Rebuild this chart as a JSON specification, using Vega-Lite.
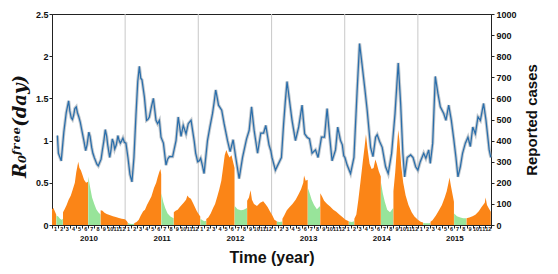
{
  "$schema": "https://vega.github.io/schema/vega-lite/v6.json",
  "width": 439,
  "height": 211,
  "autosize": {"type": "none"},
  "padding": {"left": 52, "top": 14, "right": 67, "bottom": 49},
  "background": "white",
  "config": {
    "view": {"stroke": "#222", "strokeWidth": 1},
    "font": "Liberation Sans",
    "axis": {"labelFont": "Liberation Sans", "titleFont": "Liberation Sans", "labelColor": "#111", "titleColor": "#111", "domainColor": "#222", "tickColor": "#222", "grid": false}
  },
  "datasets": {
    "years": [{"d": "2011-01-01"}, {"d": "2012-01-01"}, {"d": "2013-01-01"}, {"d": "2014-01-01"}, {"d": "2015-01-01"}],
    "r0": [
      {"d":"2010-01-28","r":1.06},{"d":"2010-02-02","r":0.85},{"d":"2010-02-16","r":0.76},{"d":"2010-03-01","r":1.1},{"d":"2010-03-13","r":1.33},{"d":"2010-03-25","r":1.47},{"d":"2010-03-31","r":1.35},{"d":"2010-04-07","r":1.27},{"d":"2010-04-13","r":1.25},{"d":"2010-04-19","r":1.3},{"d":"2010-04-25","r":1.38},{"d":"2010-05-02","r":1.4},{"d":"2010-05-08","r":1.33},{"d":"2010-05-15","r":1.28},{"d":"2010-05-22","r":1.22},{"d":"2010-05-30","r":1.12},{"d":"2010-06-09","r":1.0},{"d":"2010-06-18","r":0.88},{"d":"2010-06-25","r":0.95},{"d":"2010-07-04","r":1.1},{"d":"2010-07-10","r":1.05},{"d":"2010-07-18","r":0.92},{"d":"2010-07-24","r":0.85},{"d":"2010-07-31","r":0.8},{"d":"2010-08-13","r":0.72},{"d":"2010-08-20","r":0.7},{"d":"2010-08-27","r":0.74},{"d":"2010-09-03","r":0.78},{"d":"2010-09-09","r":0.88},{"d":"2010-09-17","r":1.0},{"d":"2010-09-24","r":1.13},{"d":"2010-10-01","r":1.05},{"d":"2010-10-06","r":0.95},{"d":"2010-10-16","r":0.8},{"d":"2010-10-22","r":0.88},{"d":"2010-10-29","r":1.02},{"d":"2010-11-04","r":0.98},{"d":"2010-11-10","r":0.9},{"d":"2010-11-18","r":0.95},{"d":"2010-11-26","r":1.06},{"d":"2010-12-02","r":1.0},{"d":"2010-12-08","r":0.97},{"d":"2010-12-15","r":1.0},{"d":"2010-12-21","r":1.03},{"d":"2010-12-28","r":0.98},
      {"d":"2011-01-05","r":0.97},{"d":"2011-01-15","r":0.8},{"d":"2011-01-25","r":0.6},{"d":"2011-02-04","r":0.51},{"d":"2011-02-14","r":0.8},{"d":"2011-02-24","r":1.3},{"d":"2011-03-05","r":1.7},{"d":"2011-03-13","r":1.88},{"d":"2011-03-20","r":1.74},{"d":"2011-03-26","r":1.72},{"d":"2011-04-07","r":1.52},{"d":"2011-04-18","r":1.24},{"d":"2011-04-24","r":1.25},{"d":"2011-05-02","r":1.28},{"d":"2011-05-12","r":1.4},{"d":"2011-05-22","r":1.5},{"d":"2011-06-04","r":1.24},{"d":"2011-06-12","r":1.2},{"d":"2011-06-21","r":1.24},{"d":"2011-06-29","r":1.04},{"d":"2011-07-11","r":0.97},{"d":"2011-07-24","r":0.71},{"d":"2011-08-01","r":0.78},{"d":"2011-08-10","r":0.81},{"d":"2011-08-26","r":0.81},{"d":"2011-09-12","r":1.0},{"d":"2011-09-23","r":1.28},{"d":"2011-10-07","r":1.05},{"d":"2011-10-18","r":1.18},{"d":"2011-11-01","r":1.08},{"d":"2011-11-12","r":1.2},{"d":"2011-11-26","r":1.24},{"d":"2011-12-12","r":0.99},{"d":"2011-12-19","r":0.85},{"d":"2011-12-29","r":0.75},
      {"d":"2012-01-06","r":0.76},{"d":"2012-01-13","r":0.79},{"d":"2012-01-22","r":0.7},{"d":"2012-01-30","r":0.61},{"d":"2012-02-16","r":1.0},{"d":"2012-02-28","r":1.16},{"d":"2012-03-12","r":1.32},{"d":"2012-03-20","r":1.45},{"d":"2012-03-28","r":1.6},{"d":"2012-04-05","r":1.5},{"d":"2012-04-11","r":1.42},{"d":"2012-04-27","r":1.36},{"d":"2012-05-09","r":1.2},{"d":"2012-05-26","r":1.0},{"d":"2012-06-08","r":0.87},{"d":"2012-06-23","r":1.01},{"d":"2012-07-06","r":0.8},{"d":"2012-07-23","r":0.55},{"d":"2012-08-09","r":0.8},{"d":"2012-08-29","r":1.02},{"d":"2012-09-11","r":1.12},{"d":"2012-09-23","r":1.4},{"d":"2012-10-06","r":1.12},{"d":"2012-10-23","r":0.85},{"d":"2012-11-08","r":1.09},{"d":"2012-11-22","r":1.09},{"d":"2012-12-03","r":1.18},{"d":"2012-12-19","r":0.95},{"d":"2012-12-28","r":0.88},
      {"d":"2013-01-03","r":0.8},{"d":"2013-01-20","r":0.65},{"d":"2013-02-05","r":0.73},{"d":"2013-02-19","r":0.8},{"d":"2013-03-02","r":1.2},{"d":"2013-03-10","r":1.45},{"d":"2013-03-19","r":1.7},{"d":"2013-03-31","r":1.48},{"d":"2013-04-13","r":1.24},{"d":"2013-04-30","r":1.0},{"d":"2013-05-16","r":1.16},{"d":"2013-06-02","r":1.42},{"d":"2013-06-15","r":1.08},{"d":"2013-06-27","r":1.04},{"d":"2013-07-09","r":1.02},{"d":"2013-07-22","r":0.85},{"d":"2013-08-08","r":0.89},{"d":"2013-08-21","r":0.8},{"d":"2013-09-07","r":1.04},{"d":"2013-09-22","r":1.04},{"d":"2013-10-05","r":1.38},{"d":"2013-10-18","r":1.04},{"d":"2013-10-30","r":0.76},{"d":"2013-11-16","r":0.89},{"d":"2013-11-27","r":1.16},{"d":"2013-12-11","r":1.0},{"d":"2013-12-20","r":0.95},{"d":"2013-12-27","r":0.82},
      {"d":"2014-01-02","r":0.8},{"d":"2014-01-13","r":0.71},{"d":"2014-01-30","r":0.61},{"d":"2014-02-16","r":0.8},{"d":"2014-03-04","r":1.6},{"d":"2014-03-16","r":2.15},{"d":"2014-03-26","r":1.95},{"d":"2014-04-12","r":1.6},{"d":"2014-04-23","r":1.36},{"d":"2014-05-10","r":0.92},{"d":"2014-05-22","r":0.81},{"d":"2014-06-04","r":1.04},{"d":"2014-06-12","r":1.07},{"d":"2014-06-24","r":0.99},{"d":"2014-07-07","r":0.92},{"d":"2014-07-24","r":0.69},{"d":"2014-08-06","r":0.61},{"d":"2014-08-23","r":0.85},{"d":"2014-09-09","r":1.32},{"d":"2014-09-25","r":1.92},{"d":"2014-10-07","r":1.44},{"d":"2014-10-18","r":0.85},{"d":"2014-10-27","r":0.57},{"d":"2014-11-09","r":0.8},{"d":"2014-11-26","r":0.83},{"d":"2014-12-08","r":0.8},{"d":"2014-12-21","r":0.69},
      {"d":"2015-01-01","r":0.65},{"d":"2015-01-13","r":0.75},{"d":"2015-01-30","r":0.85},{"d":"2015-02-10","r":0.79},{"d":"2015-02-24","r":0.89},{"d":"2015-03-04","r":0.73},{"d":"2015-03-16","r":0.97},{"d":"2015-03-29","r":1.76},{"d":"2015-04-11","r":1.56},{"d":"2015-04-23","r":1.4},{"d":"2015-05-10","r":1.32},{"d":"2015-05-21","r":1.24},{"d":"2015-06-04","r":1.42},{"d":"2015-06-17","r":1.24},{"d":"2015-06-29","r":1.02},{"d":"2015-07-10","r":0.8},{"d":"2015-07-20","r":0.57},{"d":"2015-08-01","r":0.69},{"d":"2015-08-12","r":0.85},{"d":"2015-08-26","r":0.97},{"d":"2015-09-08","r":1.04},{"d":"2015-09-20","r":0.93},{"d":"2015-10-02","r":1.16},{"d":"2015-10-15","r":1.08},{"d":"2015-10-28","r":1.28},{"d":"2015-11-09","r":1.24},{"d":"2015-11-25","r":1.44},{"d":"2015-12-07","r":1.24},{"d":"2015-12-23","r":0.89},{"d":"2015-12-31","r":0.8}
    ],
    "cases": [
      {"d":"2010-01-01","c":75,"s":"2010-0","h":"term"},{"d":"2010-01-08","c":80,"s":"2010-0","h":"term"},{"d":"2010-01-15","c":65,"s":"2010-0","h":"term"},{"d":"2010-01-22","c":50,"s":"2010-0","h":"term"},
      {"d":"2010-01-23","c":45,"s":"2010-1","h":"holiday"},{"d":"2010-02-01","c":40,"s":"2010-1","h":"holiday"},{"d":"2010-02-10","c":30,"s":"2010-1","h":"holiday"},{"d":"2010-02-18","c":25,"s":"2010-1","h":"holiday"},{"d":"2010-02-24","c":30,"s":"2010-1","h":"holiday"},
      {"d":"2010-02-25","c":60,"s":"2010-2","h":"term"},{"d":"2010-03-05","c":75,"s":"2010-2","h":"term"},{"d":"2010-03-15","c":95,"s":"2010-2","h":"term"},{"d":"2010-03-25","c":120,"s":"2010-2","h":"term"},{"d":"2010-04-05","c":140,"s":"2010-2","h":"term"},{"d":"2010-04-15","c":170,"s":"2010-2","h":"term"},{"d":"2010-04-25","c":200,"s":"2010-2","h":"term"},{"d":"2010-05-02","c":250,"s":"2010-2","h":"term"},{"d":"2010-05-08","c":280,"s":"2010-2","h":"term"},{"d":"2010-05-12","c":300,"s":"2010-2","h":"term"},{"d":"2010-05-18","c":270,"s":"2010-2","h":"term"},{"d":"2010-05-25","c":260,"s":"2010-2","h":"term"},{"d":"2010-06-01","c":240,"s":"2010-2","h":"term"},{"d":"2010-06-10","c":215,"s":"2010-2","h":"term"},{"d":"2010-06-20","c":200,"s":"2010-2","h":"term"},{"d":"2010-06-30","c":205,"s":"2010-2","h":"term"},
      {"d":"2010-07-01","c":230,"s":"2010-3","h":"holiday"},{"d":"2010-07-10","c":180,"s":"2010-3","h":"holiday"},{"d":"2010-07-20","c":130,"s":"2010-3","h":"holiday"},{"d":"2010-07-31","c":100,"s":"2010-3","h":"holiday"},{"d":"2010-08-10","c":75,"s":"2010-3","h":"holiday"},{"d":"2010-08-20","c":60,"s":"2010-3","h":"holiday"},{"d":"2010-08-31","c":50,"s":"2010-3","h":"holiday"},
      {"d":"2010-09-01","c":70,"s":"2010-4","h":"term"},{"d":"2010-09-10","c":68,"s":"2010-4","h":"term"},{"d":"2010-09-20","c":58,"s":"2010-4","h":"term"},{"d":"2010-10-01","c":52,"s":"2010-4","h":"term"},{"d":"2010-10-15","c":47,"s":"2010-4","h":"term"},{"d":"2010-11-01","c":42,"s":"2010-4","h":"term"},{"d":"2010-11-15","c":38,"s":"2010-4","h":"term"},{"d":"2010-12-01","c":33,"s":"2010-4","h":"term"},{"d":"2010-12-15","c":30,"s":"2010-4","h":"term"},{"d":"2010-12-31","c":27,"s":"2010-4","h":"term"},{"d":"2011-01-08","c":20,"s":"2010-4","h":"term"},{"d":"2011-01-14","c":12,"s":"2010-4","h":"term"},
      {"d":"2011-01-15","c":10,"s":"2011-1","h":"holiday"},{"d":"2011-01-25","c":6,"s":"2011-1","h":"holiday"},{"d":"2011-02-05","c":5,"s":"2011-1","h":"holiday"},{"d":"2011-02-14","c":6,"s":"2011-1","h":"holiday"},
      {"d":"2011-02-15","c":8,"s":"2011-2","h":"term"},{"d":"2011-03-01","c":15,"s":"2011-2","h":"term"},{"d":"2011-03-10","c":25,"s":"2011-2","h":"term"},{"d":"2011-03-20","c":45,"s":"2011-2","h":"term"},{"d":"2011-04-01","c":65,"s":"2011-2","h":"term"},{"d":"2011-04-10","c":72,"s":"2011-2","h":"term"},{"d":"2011-04-20","c":95,"s":"2011-2","h":"term"},{"d":"2011-05-01","c":115,"s":"2011-2","h":"term"},{"d":"2011-05-12","c":135,"s":"2011-2","h":"term"},{"d":"2011-05-25","c":175,"s":"2011-2","h":"term"},{"d":"2011-06-05","c":200,"s":"2011-2","h":"term"},{"d":"2011-06-12","c":225,"s":"2011-2","h":"term"},{"d":"2011-06-20","c":250,"s":"2011-2","h":"term"},{"d":"2011-06-26","c":265,"s":"2011-2","h":"term"},{"d":"2011-06-30","c":240,"s":"2011-2","h":"term"},
      {"d":"2011-07-01","c":150,"s":"2011-3","h":"holiday"},{"d":"2011-07-10","c":110,"s":"2011-3","h":"holiday"},{"d":"2011-07-20","c":80,"s":"2011-3","h":"holiday"},{"d":"2011-08-01","c":55,"s":"2011-3","h":"holiday"},{"d":"2011-08-15","c":40,"s":"2011-3","h":"holiday"},{"d":"2011-08-31","c":32,"s":"2011-3","h":"holiday"},
      {"d":"2011-09-01","c":60,"s":"2011-4","h":"term"},{"d":"2011-09-10","c":68,"s":"2011-4","h":"term"},{"d":"2011-09-20","c":72,"s":"2011-4","h":"term"},{"d":"2011-10-01","c":85,"s":"2011-4","h":"term"},{"d":"2011-10-10","c":95,"s":"2011-4","h":"term"},{"d":"2011-10-20","c":105,"s":"2011-4","h":"term"},{"d":"2011-11-01","c":120,"s":"2011-4","h":"term"},{"d":"2011-11-08","c":140,"s":"2011-4","h":"term"},{"d":"2011-11-15","c":130,"s":"2011-4","h":"term"},{"d":"2011-11-25","c":125,"s":"2011-4","h":"term"},{"d":"2011-12-05","c":105,"s":"2011-4","h":"term"},{"d":"2011-12-15","c":85,"s":"2011-4","h":"term"},{"d":"2011-12-25","c":65,"s":"2011-4","h":"term"},{"d":"2012-01-01","c":55,"s":"2011-4","h":"term"},{"d":"2012-01-11","c":40,"s":"2011-4","h":"term"},
      {"d":"2012-01-12","c":30,"s":"2012-1","h":"holiday"},{"d":"2012-01-22","c":22,"s":"2012-1","h":"holiday"},{"d":"2012-02-01","c":18,"s":"2012-1","h":"holiday"},{"d":"2012-02-09","c":20,"s":"2012-1","h":"holiday"},
      {"d":"2012-02-10","c":28,"s":"2012-2","h":"term"},{"d":"2012-02-20","c":35,"s":"2012-2","h":"term"},{"d":"2012-03-03","c":55,"s":"2012-2","h":"term"},{"d":"2012-03-15","c":80,"s":"2012-2","h":"term"},{"d":"2012-03-25","c":100,"s":"2012-2","h":"term"},{"d":"2012-04-05","c":135,"s":"2012-2","h":"term"},{"d":"2012-04-15","c":170,"s":"2012-2","h":"term"},{"d":"2012-04-25","c":210,"s":"2012-2","h":"term"},{"d":"2012-05-05","c":280,"s":"2012-2","h":"term"},{"d":"2012-05-12","c":330,"s":"2012-2","h":"term"},{"d":"2012-05-20","c":355,"s":"2012-2","h":"term"},{"d":"2012-05-28","c":335,"s":"2012-2","h":"term"},{"d":"2012-06-05","c":320,"s":"2012-2","h":"term"},{"d":"2012-06-15","c":330,"s":"2012-2","h":"term"},{"d":"2012-06-25","c":290,"s":"2012-2","h":"term"},{"d":"2012-06-30","c":270,"s":"2012-2","h":"term"},
      {"d":"2012-07-01","c":90,"s":"2012-3","h":"holiday"},{"d":"2012-07-15","c":75,"s":"2012-3","h":"holiday"},{"d":"2012-08-01","c":70,"s":"2012-3","h":"holiday"},{"d":"2012-08-15","c":72,"s":"2012-3","h":"holiday"},{"d":"2012-08-31","c":80,"s":"2012-3","h":"holiday"},
      {"d":"2012-09-01","c":115,"s":"2012-4","h":"term"},{"d":"2012-09-10","c":130,"s":"2012-4","h":"term"},{"d":"2012-09-18","c":165,"s":"2012-4","h":"term"},{"d":"2012-09-25","c":120,"s":"2012-4","h":"term"},{"d":"2012-10-05","c":100,"s":"2012-4","h":"term"},{"d":"2012-10-20","c":90,"s":"2012-4","h":"term"},{"d":"2012-11-05","c":105,"s":"2012-4","h":"term"},{"d":"2012-11-20","c":112,"s":"2012-4","h":"term"},{"d":"2012-12-01","c":100,"s":"2012-4","h":"term"},{"d":"2012-12-12","c":85,"s":"2012-4","h":"term"},{"d":"2012-12-22","c":68,"s":"2012-4","h":"term"},{"d":"2013-01-05","c":45,"s":"2012-4","h":"term"},{"d":"2013-01-15","c":25,"s":"2012-4","h":"term"},{"d":"2013-01-27","c":18,"s":"2012-4","h":"term"},
      {"d":"2013-01-28","c":16,"s":"2013-1","h":"holiday"},{"d":"2013-02-10","c":14,"s":"2013-1","h":"holiday"},{"d":"2013-02-23","c":16,"s":"2013-1","h":"holiday"},
      {"d":"2013-02-24","c":30,"s":"2013-2","h":"term"},{"d":"2013-03-05","c":45,"s":"2013-2","h":"term"},{"d":"2013-03-18","c":70,"s":"2013-2","h":"term"},{"d":"2013-04-01","c":85,"s":"2013-2","h":"term"},{"d":"2013-04-15","c":100,"s":"2013-2","h":"term"},{"d":"2013-05-01","c":120,"s":"2013-2","h":"term"},{"d":"2013-05-15","c":145,"s":"2013-2","h":"term"},{"d":"2013-05-28","c":170,"s":"2013-2","h":"term"},{"d":"2013-06-08","c":200,"s":"2013-2","h":"term"},{"d":"2013-06-12","c":235,"s":"2013-2","h":"term"},{"d":"2013-06-20","c":210,"s":"2013-2","h":"term"},{"d":"2013-06-30","c":215,"s":"2013-2","h":"term"},
      {"d":"2013-07-01","c":175,"s":"2013-3","h":"holiday"},{"d":"2013-07-10","c":150,"s":"2013-3","h":"holiday"},{"d":"2013-07-20","c":120,"s":"2013-3","h":"holiday"},{"d":"2013-08-01","c":95,"s":"2013-3","h":"holiday"},{"d":"2013-08-15","c":75,"s":"2013-3","h":"holiday"},{"d":"2013-08-31","c":90,"s":"2013-3","h":"holiday"},
      {"d":"2013-09-01","c":150,"s":"2013-4","h":"term"},{"d":"2013-09-10","c":135,"s":"2013-4","h":"term"},{"d":"2013-09-20","c":115,"s":"2013-4","h":"term"},{"d":"2013-10-05","c":100,"s":"2013-4","h":"term"},{"d":"2013-10-20","c":88,"s":"2013-4","h":"term"},{"d":"2013-11-05","c":72,"s":"2013-4","h":"term"},{"d":"2013-11-20","c":63,"s":"2013-4","h":"term"},{"d":"2013-12-05","c":50,"s":"2013-4","h":"term"},{"d":"2013-12-20","c":38,"s":"2013-4","h":"term"},{"d":"2014-01-05","c":25,"s":"2013-4","h":"term"},{"d":"2014-01-21","c":18,"s":"2013-4","h":"term"},
      {"d":"2014-01-22","c":16,"s":"2014-1","h":"holiday"},{"d":"2014-02-05","c":14,"s":"2014-1","h":"holiday"},{"d":"2014-02-17","c":18,"s":"2014-1","h":"holiday"},
      {"d":"2014-02-18","c":30,"s":"2014-2","h":"term"},{"d":"2014-02-28","c":50,"s":"2014-2","h":"term"},{"d":"2014-03-10","c":120,"s":"2014-2","h":"term"},{"d":"2014-03-20","c":200,"s":"2014-2","h":"term"},{"d":"2014-04-01","c":300,"s":"2014-2","h":"term"},{"d":"2014-04-10","c":370,"s":"2014-2","h":"term"},{"d":"2014-04-17","c":430,"s":"2014-2","h":"term"},{"d":"2014-04-25","c":360,"s":"2014-2","h":"term"},{"d":"2014-05-05","c":290,"s":"2014-2","h":"term"},{"d":"2014-05-15","c":265,"s":"2014-2","h":"term"},{"d":"2014-05-25","c":270,"s":"2014-2","h":"term"},{"d":"2014-06-03","c":310,"s":"2014-2","h":"term"},{"d":"2014-06-10","c":290,"s":"2014-2","h":"term"},{"d":"2014-06-20","c":255,"s":"2014-2","h":"term"},{"d":"2014-06-30","c":230,"s":"2014-2","h":"term"},
      {"d":"2014-07-01","c":200,"s":"2014-3","h":"holiday"},{"d":"2014-07-10","c":150,"s":"2014-3","h":"holiday"},{"d":"2014-07-20","c":110,"s":"2014-3","h":"holiday"},{"d":"2014-08-01","c":72,"s":"2014-3","h":"holiday"},{"d":"2014-08-15","c":60,"s":"2014-3","h":"holiday"},{"d":"2014-08-31","c":80,"s":"2014-3","h":"holiday"},
      {"d":"2014-09-01","c":160,"s":"2014-4","h":"term"},{"d":"2014-09-10","c":250,"s":"2014-4","h":"term"},{"d":"2014-09-18","c":360,"s":"2014-4","h":"term"},{"d":"2014-09-25","c":450,"s":"2014-4","h":"term"},{"d":"2014-10-01","c":400,"s":"2014-4","h":"term"},{"d":"2014-10-10","c":280,"s":"2014-4","h":"term"},{"d":"2014-10-20","c":200,"s":"2014-4","h":"term"},{"d":"2014-11-01","c":140,"s":"2014-4","h":"term"},{"d":"2014-11-15","c":95,"s":"2014-4","h":"term"},{"d":"2014-12-01","c":60,"s":"2014-4","h":"term"},{"d":"2014-12-15","c":40,"s":"2014-4","h":"term"},{"d":"2015-01-01","c":25,"s":"2014-4","h":"term"},{"d":"2015-01-15","c":15,"s":"2014-4","h":"term"},{"d":"2015-01-27","c":12,"s":"2014-4","h":"term"},
      {"d":"2015-01-28","c":10,"s":"2015-1","h":"holiday"},{"d":"2015-02-10","c":8,"s":"2015-1","h":"holiday"},{"d":"2015-02-25","c":8,"s":"2015-1","h":"holiday"},{"d":"2015-03-04","c":10,"s":"2015-1","h":"holiday"},
      {"d":"2015-03-05","c":15,"s":"2015-2","h":"term"},{"d":"2015-03-15","c":22,"s":"2015-2","h":"term"},{"d":"2015-04-01","c":45,"s":"2015-2","h":"term"},{"d":"2015-04-15","c":68,"s":"2015-2","h":"term"},{"d":"2015-05-01","c":95,"s":"2015-2","h":"term"},{"d":"2015-05-15","c":130,"s":"2015-2","h":"term"},{"d":"2015-05-25","c":160,"s":"2015-2","h":"term"},{"d":"2015-06-03","c":200,"s":"2015-2","h":"term"},{"d":"2015-06-08","c":225,"s":"2015-2","h":"term"},{"d":"2015-06-15","c":185,"s":"2015-2","h":"term"},{"d":"2015-06-25","c":135,"s":"2015-2","h":"term"},{"d":"2015-06-30","c":110,"s":"2015-2","h":"term"},
      {"d":"2015-07-01","c":55,"s":"2015-3","h":"holiday"},{"d":"2015-07-15","c":42,"s":"2015-3","h":"holiday"},{"d":"2015-08-01","c":35,"s":"2015-3","h":"holiday"},{"d":"2015-08-15","c":32,"s":"2015-3","h":"holiday"},{"d":"2015-08-31","c":32,"s":"2015-3","h":"holiday"},
      {"d":"2015-09-01","c":32,"s":"2015-4","h":"term"},{"d":"2015-09-15","c":36,"s":"2015-4","h":"term"},{"d":"2015-10-01","c":42,"s":"2015-4","h":"term"},{"d":"2015-10-15","c":48,"s":"2015-4","h":"term"},{"d":"2015-11-01","c":65,"s":"2015-4","h":"term"},{"d":"2015-11-15","c":85,"s":"2015-4","h":"term"},{"d":"2015-12-01","c":105,"s":"2015-4","h":"term"},{"d":"2015-12-05","c":130,"s":"2015-4","h":"term"},{"d":"2015-12-12","c":95,"s":"2015-4","h":"term"},{"d":"2015-12-20","c":80,"s":"2015-4","h":"term"},{"d":"2015-12-31","c":63,"s":"2015-4","h":"term"}
    ]
  },
  "resolve": {"scale": {"y": "independent"}, "axis": {"x": "independent", "y": "independent"}},
  "layer": [
    {
      "data": {"name": "years"},
      "mark": {"type": "rule", "color": "#c8c8c8", "strokeWidth": 1},
      "encoding": {
        "x": {"field": "d", "type": "temporal",
          "scale": {"type": "utc", "domain": [{"year": 2010, "month": 1, "date": 1, "utc": true}, {"year": 2016, "month": 1, "date": 1, "utc": true}]},
          "axis": {"orient": "bottom", "title": null, "labels": false, "ticks": true, "tickSize": 3, "tickCount": {"interval": "month", "step": 1}, "domain": true, "grid": false}}
      }
    },
    {
      "data": {"name": "cases"},
      "mark": {"type": "area", "interpolate": "linear", "opacity": 1},
      "encoding": {
        "x": {"field": "d", "type": "temporal",
          "scale": {"type": "utc", "domain": [{"year": 2010, "month": 1, "date": 1, "utc": true}, {"year": 2016, "month": 1, "date": 1, "utc": true}]},
          "axis": {"orient": "bottom", "title": null, "ticks": false, "domain": false, "tickCount": {"interval": "month", "step": 1}, "labelExpr": "utcyear(datum.value) > 2015 ? '' : '' + (utcmonth(datum.value) + 1)", "labelOffset": 3, "labelOverlap": false, "labelBound": false, "labelFlush": false, "labelFontSize": 5.5, "labelFontWeight": "bold", "labelPadding": 1.5, "labelBaseline": "top"}},
        "y": {"field": "c", "type": "quantitative", "stack": null,
          "scale": {"domain": [0, 1000], "nice": false},
          "axis": {"orient": "right", "values": [0, 100, 200, 300, 400, 500, 600, 700, 800, 900, 1000], "format": "d", "title": "Reported cases", "titleFontSize": 15, "titleFontWeight": "bold", "titleAngle": 270, "titleX": 45, "titleY": 105.5, "titleBaseline": "alphabetic", "titleAlign": "center", "labelFontSize": 9, "labelFontWeight": "bold", "tickSize": 3, "labelPadding": 2, "grid": false}},
        "color": {"field": "h", "type": "nominal", "scale": {"domain": ["term", "holiday"], "range": ["#fb8517", "#98e49a"]}, "legend": null},
        "detail": {"field": "s"}
      }
    },
    {
      "data": {"name": "r0"},
      "mark": {"type": "line", "color": "#9aa3ab", "strokeWidth": 3.2, "opacity": 0.6},
      "encoding": {
        "x": {"field": "d", "type": "temporal", "scale": {"type": "utc", "domain": [{"year": 2010, "month": 1, "date": 1, "utc": true}, {"year": 2016, "month": 1, "date": 1, "utc": true}]}, "axis": null},
        "y": {"field": "r", "type": "quantitative", "scale": {"domain": [0, 2.5], "nice": false}, "axis": null}
      }
    },
    {
      "data": {"name": "r0"},
      "mark": {"type": "line", "color": "#2a6eab", "strokeWidth": 1.25},
      "encoding": {
        "x": {"field": "d", "type": "temporal",
          "scale": {"type": "utc", "domain": [{"year": 2010, "month": 1, "date": 1, "utc": true}, {"year": 2016, "month": 1, "date": 1, "utc": true}]},
          "axis": {"orient": "bottom", "values": [{"year": 2010, "month": 7, "date": 2, "utc": true}, {"year": 2011, "month": 7, "date": 2, "utc": true}, {"year": 2012, "month": 7, "date": 2, "utc": true}, {"year": 2013, "month": 7, "date": 2, "utc": true}, {"year": 2014, "month": 7, "date": 2, "utc": true}, {"year": 2015, "month": 7, "date": 2, "utc": true}], "labelExpr": "'' + utcyear(datum.value)", "ticks": false, "domain": false, "labelFontSize": 8, "labelFontWeight": "bold", "labelPadding": 9.5, "labelBaseline": "top", "title": "Time (year)", "titleFontSize": 16, "titleFontWeight": "bold", "titleY": 32, "titleBaseline": "middle"}},
        "y": {"field": "r", "type": "quantitative",
          "scale": {"domain": [0, 2.5], "nice": false},
          "axis": {"orient": "left", "values": [0, 0.5, 1, 1.5, 2, 2.5], "labelExpr": "'' + datum.value", "labelFontSize": 9, "labelFontWeight": "bold", "tickSize": 3, "labelPadding": 1, "grid": false, "title": "R₀ᶠʳᵉᵉ(day)", "titleFont": "DejaVu Serif", "titleFontStyle": "italic", "titleFontWeight": "bold", "titleFontSize": 18, "titleAngle": 270, "titleX": -27, "titleY": 112, "titleBaseline": "alphabetic", "titleAlign": "center"}}
      }
    },
    {
      "mark": {"type": "rule", "color": "#333", "strokeDash": [4, 3], "strokeWidth": 1},
      "encoding": {
        "y": {"datum": 1, "type": "quantitative", "scale": {"domain": [0, 2.5], "nice": false}, "axis": null}
      }
    }
  ]
}
